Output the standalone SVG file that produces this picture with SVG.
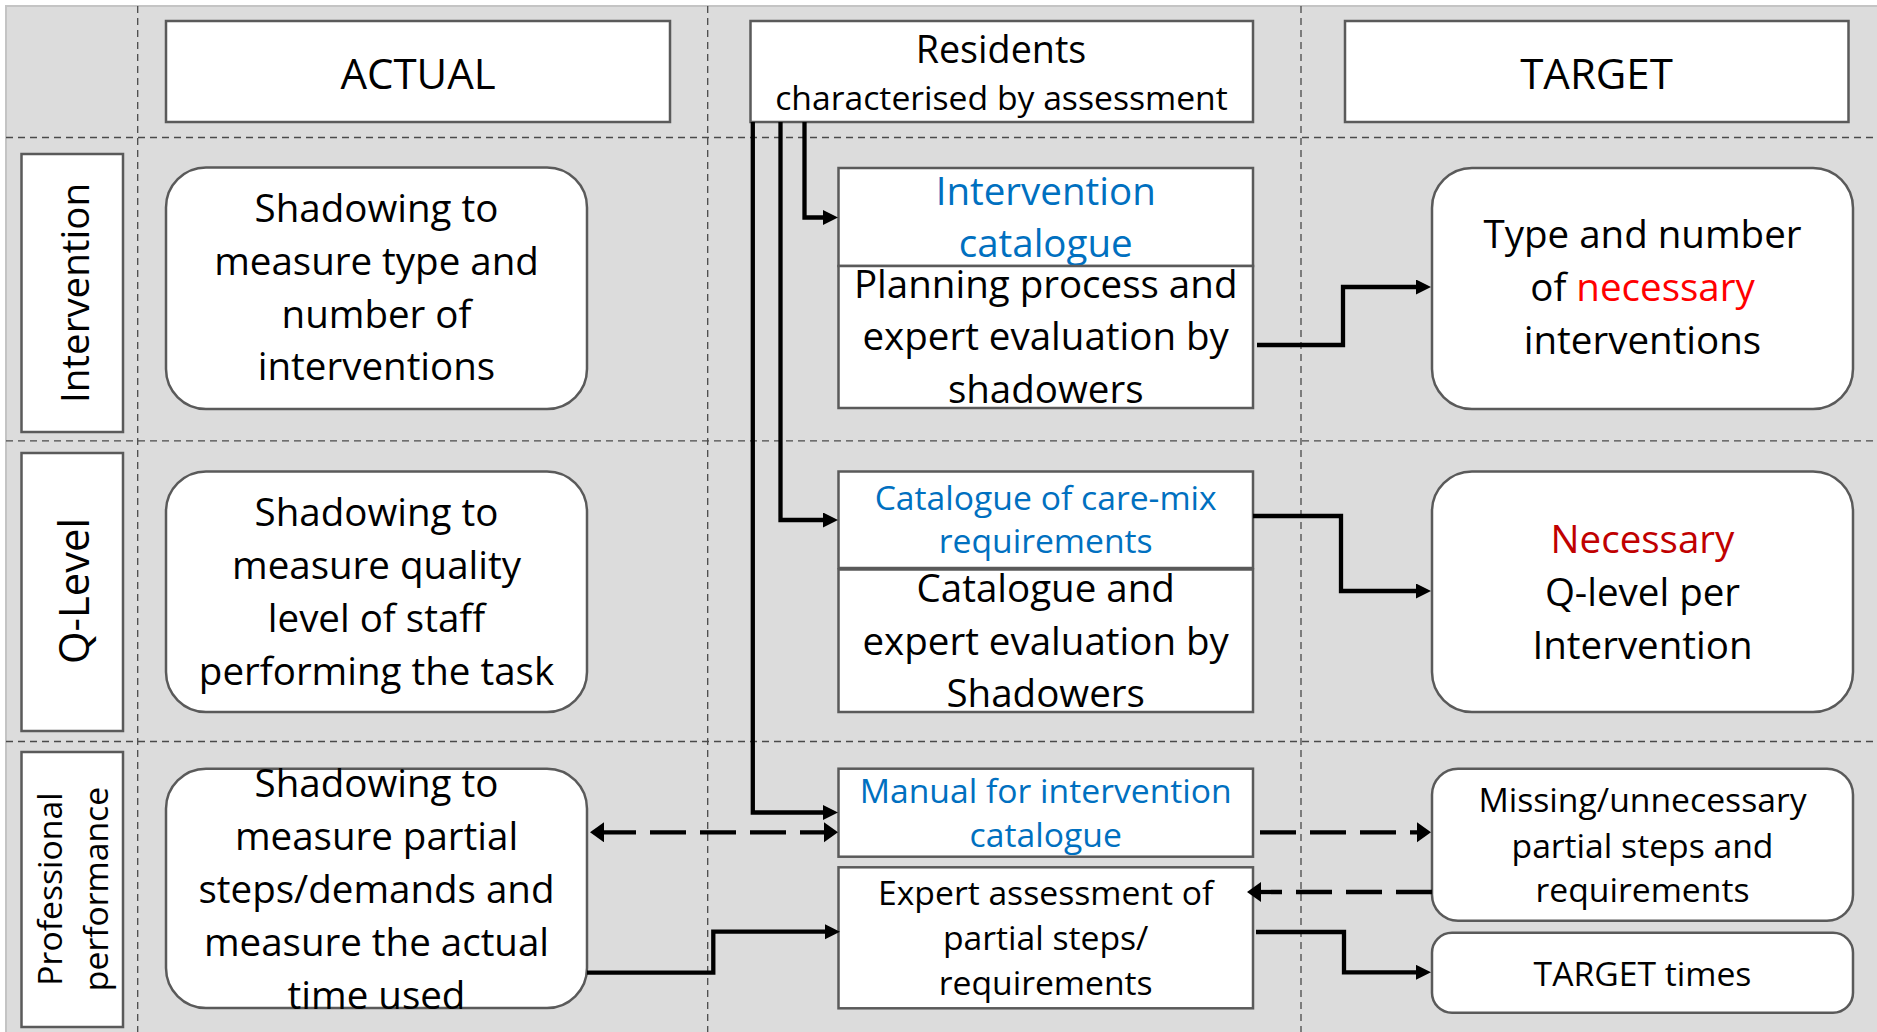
<svg xmlns="http://www.w3.org/2000/svg" width="1877" height="1032" viewBox="0 0 1877 1032">
<defs>
<style>
.bg{fill:#dcdcdc;stroke:#c4c4c4;stroke-width:2}
.grid{stroke:#4a4a4a;stroke-width:1.3;stroke-dasharray:7 5;fill:none}
.box{fill:#fff;stroke:#5a5a5a;stroke-width:2.5}
.t{font-family:"Open Sans","Noto Sans",sans-serif;fill:#000;text-anchor:middle}
.big{font-size:38.5px}
.sm{font-size:33.7px}
.blue{fill:#0070c0}
.red{fill:#ff0000}
.dred{fill:#c00000}
.conn{stroke:#000;stroke-width:4.3;fill:none}
.dash{stroke:#000;stroke-width:4.3;fill:none;stroke-dasharray:36 14}
</style>
<marker id="arr" markerUnits="userSpaceOnUse" markerWidth="16" markerHeight="16" refX="5" refY="7.5" orient="auto">
<path d="M0,0 L15,7.5 L0,15 z" fill="#000"/>
</marker>
<marker id="darr" markerUnits="userSpaceOnUse" markerWidth="16" markerHeight="22" refX="4" refY="10" orient="auto-start-reverse">
<path d="M0,0 L14,10 L0,20 z" fill="#000"/>
</marker>
</defs>

<rect class="bg" x="6" y="6" width="1872" height="1027"/>

<g id="grid">
<line class="grid" x1="137.7" y1="6" x2="137.7" y2="1032"/>
<line class="grid" x1="707.7" y1="6" x2="707.7" y2="1032"/>
<line class="grid" x1="1301" y1="6" x2="1301" y2="1032"/>
<line class="grid" x1="6" y1="137.5" x2="1877" y2="137.5"/>
<line class="grid" x1="6" y1="440.8" x2="1877" y2="440.8"/>
<line class="grid" x1="6" y1="741.5" x2="1877" y2="741.5"/>
</g>

<g id="actual">
<rect class="box" x="166" y="21" width="504" height="101"/>
<text class="t" x="418" y="89" font-size="42">ACTUAL</text>
</g>
<g id="residents">
<rect class="box" x="750.5" y="21" width="502.5" height="101"/>
<text class="t" x="1001" y="63" font-size="37.7">Residents</text>
<text class="t sm" x="1001.5" y="110">characterised by assessment</text>
</g>
<g id="target">
<rect class="box" x="1345" y="21" width="503.5" height="101"/>
<text class="t" x="1596.5" y="89" font-size="42">TARGET</text>
</g>

<g id="lbl-intervention">
<rect class="box" x="21.5" y="154" width="101.5" height="278"/>
<text class="t big" transform="translate(89,293) rotate(-90)">Intervention</text>
</g>
<g id="lbl-qlevel">
<rect class="box" x="21.5" y="453" width="101.5" height="278"/>
<text class="t" font-size="41.8" transform="translate(89,591) rotate(-90)">Q-Level</text>
</g>
<g id="lbl-prof">
<rect class="box" x="21.5" y="752" width="101.5" height="275"/>
<text class="t sm" transform="translate(61.5,889) rotate(-90)">Professional</text>
<text class="t sm" transform="translate(108,889) rotate(-90)">performance</text>
</g>

<g id="shadow1">
<rect class="box" x="166" y="167.5" width="421" height="241.5" rx="40"/>
<text class="t big" x="376.5" y="222">Shadowing to</text>
<text class="t big" x="376.5" y="275">measure type and</text>
<text class="t big" x="376.5" y="327.5">number of</text>
<text class="t big" x="376.5" y="380">interventions</text>
</g>
<g id="shadow2">
<rect class="box" x="166" y="471.5" width="421" height="240.5" rx="40"/>
<text class="t big" x="376.5" y="526">Shadowing to</text>
<text class="t big" x="376.5" y="578.5">measure quality</text>
<text class="t big" x="376.5" y="631.5">level of staff</text>
<text class="t big" x="376.5" y="685">performing the task</text>
</g>
<g id="shadow3">
<rect class="box" x="166" y="768.7" width="421" height="239.3" rx="40"/>
<text class="t big" x="376.5" y="796.7">Shadowing to</text>
<text class="t big" x="376.5" y="849.7">measure partial</text>
<text class="t big" x="376.5" y="902.7">steps/demands and</text>
<text class="t big" x="376.5" y="955.7">measure the actual</text>
<text class="t big" x="376.5" y="1008.7">time used</text>
</g>

<g id="intervention-catalogue">
<rect class="box" x="838.5" y="168" width="414.5" height="98"/>
<text class="t big blue" x="1045.7" y="205">Intervention</text>
<text class="t big blue" x="1045.7" y="257">catalogue</text>
</g>
<g id="planning">
<rect class="box" x="838.5" y="266" width="414.5" height="142"/>
<text class="t big" x="1045.7" y="298">Planning process and</text>
<text class="t big" x="1045.7" y="350">expert evaluation by</text>
<text class="t big" x="1045.7" y="402.5">shadowers</text>
</g>
<g id="caremix">
<rect class="box" x="838.5" y="471.5" width="414.5" height="96.5"/>
<text class="t sm blue" x="1045.7" y="510">Catalogue of care-mix</text>
<text class="t sm blue" x="1045.7" y="553">requirements</text>
</g>
<g id="catalogue-eval">
<rect class="box" x="838.5" y="569.5" width="414.5" height="142.5"/>
<text class="t big" x="1045.7" y="601.6">Catalogue and</text>
<text class="t big" x="1045.7" y="654.6">expert evaluation by</text>
<text class="t big" x="1045.7" y="706.5">Shadowers</text>
</g>
<g id="manual">
<rect class="box" x="838.5" y="768.7" width="414.5" height="88"/>
<text class="t sm blue" x="1045.7" y="802.5">Manual for intervention</text>
<text class="t sm blue" x="1045.7" y="846.6">catalogue</text>
</g>
<g id="expert">
<rect class="box" x="838.5" y="867.3" width="414.5" height="141"/>
<text class="t sm" x="1045.7" y="905">Expert assessment of</text>
<text class="t sm" x="1045.7" y="950">partial steps/</text>
<text class="t sm" x="1045.7" y="995">requirements</text>
</g>

<g id="type-number">
<rect class="box" x="1432" y="168" width="421" height="241" rx="40"/>
<text class="t big" x="1642.5" y="248">Type and number</text>
<text class="t big" x="1642.5" y="301">of <tspan class="red">necessary</tspan></text>
<text class="t big" x="1642.5" y="353.5">interventions</text>
</g>
<g id="necessary">
<rect class="box" x="1432" y="471.5" width="421" height="240.5" rx="40"/>
<text class="t big dred" x="1642.5" y="553">Necessary</text>
<text class="t big" x="1642.5" y="606">Q-level per</text>
<text class="t big" x="1642.5" y="658.5">Intervention</text>
</g>
<g id="missing">
<rect class="box" x="1432" y="768.7" width="421" height="152" rx="26"/>
<text class="t sm" x="1642.5" y="812">Missing/unnecessary</text>
<text class="t sm" x="1642.5" y="858">partial steps and</text>
<text class="t sm" x="1642.5" y="902">requirements</text>
</g>
<g id="target-times">
<rect class="box" x="1432" y="932.7" width="421" height="80" rx="20"/>
<text class="t sm" x="1642.5" y="986">TARGET times</text>
</g>

<g id="connectors">
<path class="conn" d="M804.5,122 V217.5 H828" marker-end="url(#arr)"/>
<path class="conn" d="M780.5,122 V520 H828" marker-end="url(#arr)"/>
<path class="conn" d="M752.8,122 V812.5 H828" marker-end="url(#arr)"/>
<path class="conn" d="M1257,345 H1343 V287 H1421" marker-end="url(#arr)"/>
<path class="conn" d="M1253,516 H1341 V591 H1421" marker-end="url(#arr)"/>
<path class="dash" d="M600,832.3 H828" marker-start="url(#darr)" marker-end="url(#darr)"/>
<path class="dash" d="M1260,832.3 H1421" marker-end="url(#darr)"/>
<path class="dash" d="M1432,892 H1257" marker-end="url(#darr)"/>
<path class="conn" d="M587,972.7 H713.3 V931.7 H830" marker-end="url(#arr)"/>
<path class="conn" d="M1256,932 H1344 V972.3 H1421" marker-end="url(#arr)"/>
</g>
</svg>
